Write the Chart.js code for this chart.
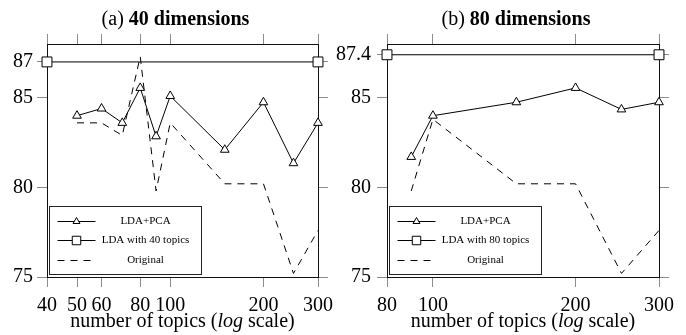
<!DOCTYPE html>
<html><head><meta charset="utf-8">
<script src="https://cdn.jsdelivr.net/npm/chart.js@4.4.0/dist/chart.umd.min.js"></script>
<style>
html,body{margin:0;padding:0;background:#fff;}
#wrap{position:relative;width:686px;height:335px;overflow:hidden;background:#fff;}
#c1{position:absolute;left:0;top:0;}
#c2{position:absolute;left:320px;top:0;}
</style></head><body>
<div id="wrap">
<canvas id="c1" width="343" height="335"></canvas>
<canvas id="c2" width="366" height="335"></canvas>
</div>
<script>
// ---- (a) 40 dimensions ----
const topics40 = [50, 60, 70, 80, 90, 100, 150, 200, 250, 300];
const ldaPca40 = [84.0, 84.4, 83.6, 85.55, 82.85, 85.1, 82.1, 84.75, 81.35, 83.6];
const original40 = [83.6, 83.6, 82.9, 87.3, 79.8, 83.6, 80.2, 80.2, 75.2, 77.6];
const ldaTopicsX40 = [40, 300];
const ldaTopics40 = [87, 87];
const xTicks40 = [40, 50, 60, 80, 100, 200, 300];
const yTicks40 = [75, 80, 85, 87];

// ---- (b) 80 dimensions ----
const topics80 = [90, 100, 150, 200, 250, 300];
const ldaPca80 = [81.7, 84.0, 84.75, 85.55, 84.35, 84.75];
const original80 = [79.8, 83.8, 80.2, 80.2, 75.2, 77.6];
const ldaTopicsX80 = [80, 300];
const ldaTopics80 = [87.4, 87.4];
const xTicks80 = [80, 100, 200, 300];
const yTicks80 = [75, 80, 85, 87.4];

const SERIF = '"Liberation Serif", "Times New Roman", serif';

function pts(xs, ys) { return xs.map((x, i) => ({x: x, y: ys[i]})); }

function makeDatasets(tx, lp, tX, tY, org, topicLabel) {
  return [
    {label: 'LDA+PCA', data: pts(tx, lp), borderColor: '#000', borderWidth: 1,
     pointStyle: 'triangle', pointRadius: 5, pointBackgroundColor: '#fff',
     pointBorderColor: '#000', pointBorderWidth: 1, tension: 0, clip: false},
    {label: topicLabel, data: pts(tX, tY), borderColor: '#000', borderWidth: 1,
     pointStyle: 'rect', pointRadius: 7, pointBackgroundColor: '#fff',
     pointBorderColor: '#000', pointBorderWidth: 1, tension: 0, clip: false},
    {label: 'Original', data: pts(tx, org), borderColor: '#000', borderWidth: 1,
     borderDash: [7, 6], pointRadius: 0, tension: 0, clip: false}
  ];
}

function makeScales(xT, yT, xmin, xmax, leftW, rightW, yPad) {
  const font = {family: SERIF, size: 20};
  const grid = {drawOnChartArea: false, drawTicks: true, tickLength: 10, color: '#8c8c8c', lineWidth: 1};
  const border = {display: true, color: '#111', width: 1};
  const setX = s => { s.ticks = xT.map(v => ({value: v})); };
  const setY = s => { s.ticks = yT.map(v => ({value: v})); };
  return {
    x: {type: 'logarithmic', position: 'bottom', min: xmin, max: xmax, afterBuildTicks: setX,
        ticks: {autoSkip: false, maxRotation: 0, minRotation: 0, font: font, color: '#000', padding: 7,
                callback: v => String(v)},
        grid: grid, border: border, afterFit: s => { s.height = 58; }},
    x2: {type: 'logarithmic', position: 'top', min: xmin, max: xmax, afterBuildTicks: setX,
        ticks: {display: false, autoSkip: false}, grid: grid, border: border,
        afterFit: s => { s.height = 44; }},
    y: {type: 'linear', position: 'left', min: 75, max: 88, afterBuildTicks: setY,
        ticks: {font: font, color: '#000', padding: yPad, autoSkip: false, callback: v => String(v)},
        grid: grid, border: border, afterFit: s => { s.width = leftW; }},
    y2: {type: 'linear', position: 'right', min: 75, max: 88, afterBuildTicks: setY,
        ticks: {display: false, autoSkip: false}, grid: grid, border: border,
        afterFit: s => { s.width = rightW; }}
  };
}

function drawMixed(ctx, parts, cx, baseline) {
  let total = 0;
  parts.forEach(p => { ctx.font = p.font; p.w = ctx.measureText(p.text).width; total += p.w; });
  let x = cx - total / 2;
  ctx.textAlign = 'left';
  ctx.textBaseline = 'alphabetic';
  ctx.fillStyle = '#000';
  parts.forEach(p => { ctx.font = p.font; ctx.fillText(p.text, x, baseline); x += p.w; });
}

function marker(ctx, style, x, y, r) {
  ctx.beginPath();
  if (style === 'triangle') {
    ctx.moveTo(x, y - r);
    ctx.lineTo(x + r * Math.sin(2 * Math.PI / 3), y + r / 2);
    ctx.lineTo(x - r * Math.sin(2 * Math.PI / 3), y + r / 2);
    ctx.closePath();
  } else if (style === 'rect') {
    const s = r * Math.SQRT1_2;
    ctx.rect(x - s, y - s, 2 * s, 2 * s);
  }
  ctx.fillStyle = '#fff';
  ctx.fill();
  ctx.strokeStyle = '#000';
  ctx.lineWidth = 1;
  ctx.setLineDash([]);
  ctx.stroke();
}

const deco = {
  id: 'deco',
  afterDraw(chart, args, opts) {
    const ctx = chart.ctx, a = chart.chartArea;
    ctx.save();
    const cx = (a.left + a.right) / 2;
    drawMixed(ctx, [
      {text: opts.titleA, font: '20px ' + SERIF},
      {text: opts.titleB, font: 'bold 20px ' + SERIF}
    ], cx - 7, 25);
    drawMixed(ctx, [
      {text: 'number of topics (', font: '20px ' + SERIF},
      {text: 'log', font: 'italic 20px ' + SERIF},
      {text: ' scale)', font: '20px ' + SERIF}
    ], cx, 327);
    // legend
    const bx = Math.round(a.left + 2) + 0.5, by = Math.round(a.bottom - 71) + 0.5;
    const bw = 152, bh = 68;
    ctx.fillStyle = '#fff';
    ctx.fillRect(bx, by, bw, bh);
    ctx.strokeStyle = '#222';
    ctx.lineWidth = 1;
    ctx.setLineDash([]);
    ctx.strokeRect(bx, by, bw, bh);
    chart.data.datasets.forEach((ds, i) => {
      const y = Math.round(by + 14 + i * 19.5) + 0.5;
      ctx.beginPath();
      ctx.strokeStyle = '#000';
      ctx.lineWidth = 1;
      ctx.setLineDash(ds.borderDash || []);
      ctx.moveTo(bx + 8, y);
      ctx.lineTo(bx + 46, y);
      ctx.stroke();
      ctx.setLineDash([]);
      if (ds.pointRadius > 0) marker(ctx, ds.pointStyle, bx + 27, y, ds.pointStyle === 'rect' ? 6 : 4);
      ctx.fillStyle = '#000';
      ctx.font = '11px ' + SERIF;
      ctx.textAlign = 'center';
      ctx.textBaseline = 'middle';
      ctx.fillText(ds.label, bx + 96, y);
    });
    ctx.restore();
  }
};

function makeChart(id, datasets, scales, titleA, titleB) {
  return new Chart(document.getElementById(id), {
    type: 'line',
    data: {datasets: datasets},
    options: {
      responsive: false, animation: false, events: [],
      layout: {padding: 0},
      plugins: {legend: {display: false}, title: {display: false}, tooltip: {enabled: false},
                deco: {titleA: titleA, titleB: titleB}},
      scales: scales
    },
    plugins: [deco]
  });
}

makeChart('c1', makeDatasets(topics40, ldaPca40, ldaTopicsX40, ldaTopics40, original40, 'LDA with 40 topics'),
  makeScales(xTicks40, yTicks40, 40, 300, 47, 25, 4), '(a) ', '40 dimensions');
makeChart('c2', makeDatasets(topics80, ldaPca80, ldaTopicsX80, ldaTopics80, original80, 'LDA with 80 topics'),
  makeScales(xTicks80, yTicks80, 80, 300, 67, 27, 6), '(b) ', '80 dimensions');
</script>
</body></html>
